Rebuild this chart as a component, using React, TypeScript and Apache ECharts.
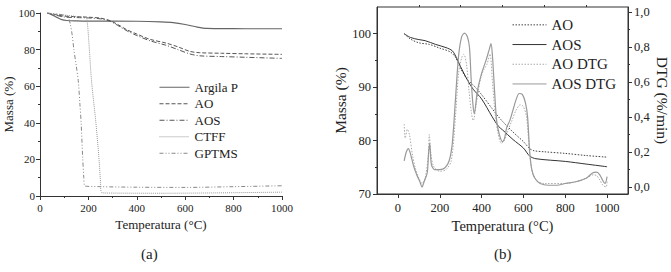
import React, { useEffect, useRef } from "react";
import * as echarts from "echarts";

// ---------- Panel (a) data: Massa (%) vs Temperatura (°C) ----------
const argilaP: [number, number][] = [[30,100],[50,99],[70,97.6],[90,96.4],[110,95.9],[150,95.7],[200,95.6],[300,95.6],[400,95.5],[500,95.1],[550,94.7],[600,93.7],[650,92.3],[690,91.6],[750,91.5],[850,91.4],[1000,91.4]];
const aoA: [number, number][] = [[30,100],[60,99.2],[100,98.3],[150,98],[200,97.7],[250,97.2],[290,95.8],[320,93.8],[360,90.8],[400,88.5],[455,85.6],[520,83.6],[570,81.5],[620,79],[660,78.3],[750,78],[850,77.7],[1000,77.4]];
const aosA: [number, number][] = [[30,100],[60,99],[100,97.8],[150,97.5],[200,97.3],[250,96.8],[290,95.5],[320,93.3],[360,90.2],[400,87.7],[455,84.8],[520,82.4],[570,80],[620,77.6],[660,76.6],[750,76.2],[850,75.8],[1000,75.2]];
const ctff: [number, number][] = [[30,100],[70,99.3],[120,98.6],[160,97.9],[190,97.4],[196,94],[204,80],[210,68],[215,60],[231,40],[244,20],[250,8],[255,1.8],[300,1.6],[500,1.5],[800,1.8],[1000,2.1]];
const gptms: [number, number][] = [[30,100],[60,99.6],[100,98.8],[117,97.5],[125,94],[133,88],[140,80],[150,71],[158,63],[165,50],[170,40],[176,22],[181,10],[185,5.5],[250,5.1],[400,4.8],[600,4.7],[800,5.1],[1000,5.6]];

// ---------- Panel (b) data ----------
const aoB: [number, number][] = [[30,100],[60,99],[100,98.3],[150,98],[200,97.3],[250,96.6],[275,95.6],[300,93.5],[330,91.5],[360,90.4],[400,88.6],[450,86],[480,84.5],[500,83.6],[550,81.6],[600,79.8],[630,78.5],[650,78.1],[700,77.9],[800,77.6],[900,77.2],[1000,76.9]];
const aosB: [number, number][] = [[30,100],[60,99.3],[100,98.9],[130,98.7],[180,98],[230,97.4],[260,96.8],[280,95.5],[300,93.8],[330,91.5],[360,89.6],[400,87.8],[450,84.5],[480,82.7],[500,82],[550,80.2],[600,78.6],[630,77.1],[660,76.6],[800,76.1],[900,75.6],[1000,75.1]];
const aoDtg: [number, number][] = [[30,0.36],[35,0.28],[45,0.33],[55,0.3],[70,0.18],[85,0.1],[100,0.05],[115,0.02],[130,0.05],[145,0.18],[150,0.3],[157,0.2],[170,0.12],[200,0.09],[230,0.1],[255,0.15],[275,0.4],[290,0.65],[305,0.74],[315,0.76],[328,0.7],[340,0.55],[352,0.42],[360,0.38],[375,0.48],[395,0.62],[410,0.67],[425,0.7],[440,0.76],[452,0.6],[465,0.42],[480,0.3],[495,0.25],[510,0.27],[525,0.32],[545,0.38],[565,0.44],[585,0.47],[600,0.46],[615,0.4],[628,0.22],[640,0.1],[660,0.04],[700,0.02],[800,0.02],[850,0.03],[900,0.05],[935,0.07],[950,0.065],[965,0.04],[980,0.01],[995,0.0],[1000,0.03]];
const aosDtg: [number, number][] = [[30,0.15],[40,0.2],[50,0.22],[60,0.19],[75,0.12],[90,0.07],[105,0.03],[115,0.0],[125,0.03],[140,0.08],[147,0.2],[152,0.25],[160,0.13],[175,0.1],[200,0.1],[225,0.11],[245,0.15],[260,0.25],[275,0.5],[290,0.75],[305,0.86],[318,0.88],[332,0.86],[342,0.8],[350,0.62],[358,0.48],[365,0.42],[380,0.55],[400,0.65],[420,0.72],[435,0.78],[445,0.82],[452,0.75],[462,0.55],[472,0.38],[485,0.3],[500,0.26],[510,0.28],[520,0.34],[535,0.38],[550,0.44],[565,0.5],[580,0.535],[595,0.53],[610,0.48],[620,0.4],[630,0.2],[640,0.1],[655,0.05],[680,0.02],[720,0.01],[760,0.01],[800,0.02],[850,0.03],[900,0.05],[930,0.08],[950,0.085],[965,0.07],[978,0.04],[990,0.02],[1000,0.06]];

// tick values
const xTicksB = [0, 200, 400, 600, 800, 1000];
const xMinorB = [100, 300, 500, 700, 900];
const yTicksB = [70, 80, 90, 100];
const yMinorB = [75, 85, 95];
const dtgTicks = [0, 0.2, 0.4, 0.6, 0.8, 1.0];
const dtgMinor = [0.1, 0.3, 0.5, 0.7, 0.9];

const FONT = "'Liberation Serif', 'DejaVu Serif', serif";
const AX = "#333";
const TXT = "#222";

export default function App() {
  const ref = useRef<HTMLDivElement>(null);
  useEffect(() => {
    if (!ref.current) return;
    const chart = echarts.init(ref.current, undefined, { renderer: "svg" });
    const axLine = { show: true, onZero: false, lineStyle: { color: AX, width: 1 } };
    const noLine = { show: false, onZero: false };
    const plain = (v: number) => String(v);
    const line = (name: string, data: any, xi: number, yi: number, color: string, type: any, width = 1) => ({
      type: "line", name, data, xAxisIndex: xi, yAxisIndex: yi, symbol: "none", smooth: 0.3,
      lineStyle: { color, width, type }, itemStyle: { color },
    });
    chart.setOption({
      animation: false,
      backgroundColor: "#fff",
      textStyle: { fontFamily: FONT, color: TXT },
      grid: [
        { left: 40, top: 13, width: 242, height: 183 },
        { left: 377, top: 7, width: 252, height: 187, show: true, borderColor: AX, borderWidth: 1, backgroundColor: "transparent" },
      ],
      xAxis: [
        {
          gridIndex: 0, type: "value", min: 0, max: 1000, interval: 200,
          axisLine: axLine, axisTick: { show: true, length: 4, lineStyle: { color: AX } },
          minorTick: { show: true, splitNumber: 2, length: 2, lineStyle: { color: AX } },
          splitLine: { show: false },
          axisLabel: { fontSize: 11, margin: 6, color: TXT, fontFamily: FONT, formatter: plain },
          name: "Temperatura (°C)", nameLocation: "middle", nameGap: 14,
          nameTextStyle: { fontSize: 13, color: TXT, fontFamily: FONT },
        },
        {
          gridIndex: 1, type: "value", min: -100, max: 1100,
          axisLine: axLine,
          axisTick: { show: true, length: 4, customValues: xTicksB, lineStyle: { color: AX } },
          splitLine: { show: false },
          axisLabel: { fontSize: 12.5, margin: 7, color: TXT, fontFamily: FONT, customValues: xTicksB, formatter: plain },
          name: "Temperatura (°C)", nameLocation: "middle", nameGap: 22,
          nameTextStyle: { fontSize: 14.5, color: TXT, fontFamily: FONT },
        },
        {
          gridIndex: 1, type: "value", min: -100, max: 1100,
          axisLine: noLine,
          axisTick: { show: true, length: 2, customValues: xMinorB, lineStyle: { color: AX } },
          splitLine: { show: false },
          axisLabel: { show: false },
        },
      ],
      yAxis: [
        {
          gridIndex: 0, type: "value", min: 0, max: 100, interval: 20,
          axisLine: axLine, axisTick: { show: true, length: 4, lineStyle: { color: AX } },
          minorTick: { show: true, splitNumber: 2, length: 2, lineStyle: { color: AX } },
          splitLine: { show: false },
          axisLabel: { fontSize: 11, margin: 5, color: TXT, fontFamily: FONT },
          name: "Massa (%)", nameLocation: "middle", nameGap: 16,
          nameTextStyle: { fontSize: 13, color: TXT, fontFamily: FONT },
        },
        {
          gridIndex: 1, type: "value", position: "left", min: 70, max: 105,
          axisLine: axLine,
          axisTick: { show: true, length: 4, customValues: yTicksB, lineStyle: { color: AX } },
          splitLine: { show: false },
          axisLabel: { fontSize: 12.5, margin: 6, color: TXT, fontFamily: FONT, customValues: yTicksB },
          name: "Massa (%)", nameLocation: "middle", nameGap: 24,
          nameTextStyle: { fontSize: 15.5, color: TXT, fontFamily: FONT },
        },
        {
          gridIndex: 1, type: "value", position: "right", min: -0.04, max: 1.03,
          axisLine: axLine,
          axisTick: { show: true, length: 4, customValues: dtgTicks, lineStyle: { color: AX } },
          splitLine: { show: false },
          axisLabel: {
            fontSize: 12.5, margin: 6, color: TXT, fontFamily: FONT, customValues: dtgTicks,
            formatter: (v: number) => v.toFixed(1).replace(".", ","),
          },
          name: "DTG (%/min)", nameLocation: "middle", nameGap: 26, nameRotate: -90,
          nameTextStyle: { fontSize: 15.5, color: TXT, fontFamily: FONT },
        },
        {
          gridIndex: 1, type: "value", position: "left", min: 70, max: 105,
          axisLine: noLine,
          axisTick: { show: true, length: 2, customValues: yMinorB, lineStyle: { color: AX } },
          splitLine: { show: false }, axisLabel: { show: false },
        },
        {
          gridIndex: 1, type: "value", position: "right", min: -0.04, max: 1.03,
          axisLine: noLine,
          axisTick: { show: true, length: 2, customValues: dtgMinor, lineStyle: { color: AX } },
          splitLine: { show: false }, axisLabel: { show: false },
        },
      ],
      legend: [
        {
          data: ["Argila P", "AO", "AOS", "CTFF", "GPTMS"], orient: "vertical",
          left: 159, top: 79, padding: 0, itemWidth: 30, itemHeight: 8, itemGap: 0,
          itemStyle: { opacity: 0 }, lineStyle: { width: 1 },
          textStyle: { fontSize: 13, lineHeight: 16.5, color: TXT, fontFamily: FONT },
          selectedMode: false,
        },
        {
          data: ["AO ", "AOS ", "AO DTG", "AOS DTG"], orient: "vertical",
          left: 512, top: 15, padding: 0, itemWidth: 34, itemHeight: 8, itemGap: 0,
          itemStyle: { opacity: 0 }, lineStyle: { width: 1 },
          formatter: (n: string) => n.trim(),
          textStyle: { fontSize: 15, lineHeight: 19.7, color: TXT, fontFamily: FONT },
          selectedMode: false,
        },
      ],
      graphic: [
        { type: "text", left: 141, top: 246, style: { text: "(a)", fontSize: 15, fontFamily: FONT, fill: TXT } },
        { type: "text", left: 494, top: 246, style: { text: "(b)", fontSize: 15, fontFamily: FONT, fill: TXT } },
      ],
      series: [
        line("Argila P", argilaP, 0, 0, "#666", "solid", 1.2),
        line("AO", aoA, 0, 0, "#555", [4, 2]),
        line("AOS", aosA, 0, 0, "#555", [5, 2, 1, 2]),
        line("CTFF", ctff, 0, 0, "#999", [1, 1]),
        line("GPTMS", gptms, 0, 0, "#888", [4, 2, 1, 2, 1, 2]),
        line("AO ", aoB, 1, 1, "#444", [1.5, 1.5]),
        line("AOS ", aosB, 1, 1, "#333", "solid"),
        line("AO DTG", aoDtg, 1, 2, "#aaa", [1.5, 1.5]),
        line("AOS DTG", aosDtg, 1, 2, "#999", "solid", 1.2),
      ],
    });
    return () => chart.dispose();
  }, []);
  return <div ref={ref} style={{ position: "fixed", left: 0, top: 0, width: 671, height: 272 }} />;
}
